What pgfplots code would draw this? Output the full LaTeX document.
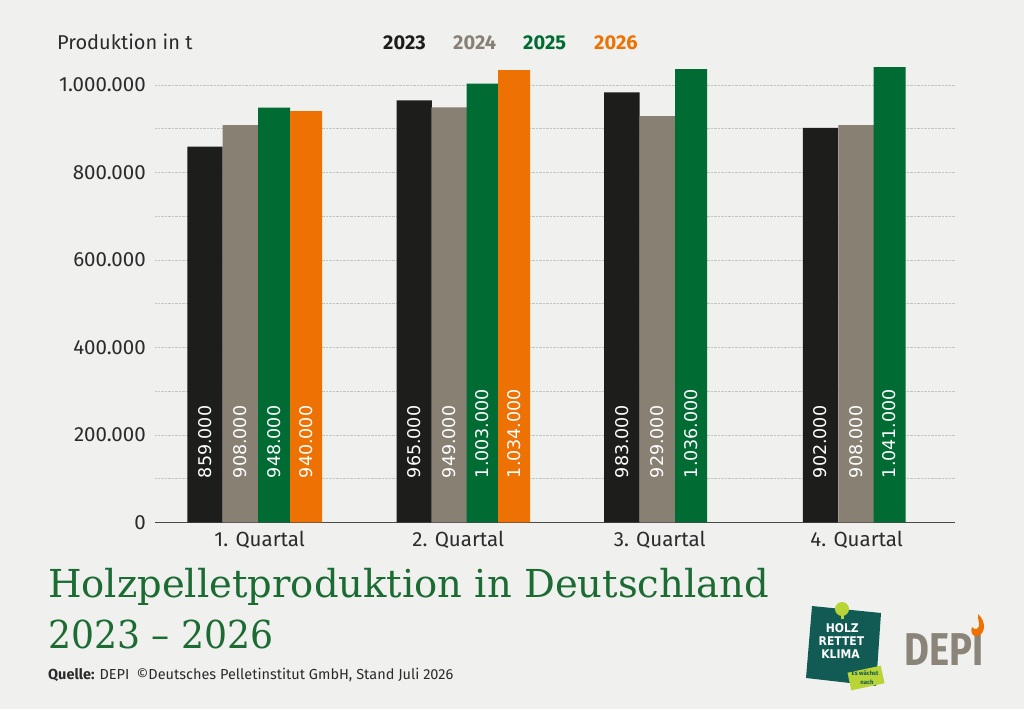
\documentclass[border=0pt]{standalone}
\usepackage{fontspec}
\setmainfont{Fira Sans}
\newfontfamily\slab{DejaVu Serif}
\newfontfamily\dejavu{DejaVu Sans}
\usepackage{pgfplots}
\pgfplotsset{compat=1.18}
\usepackage{pgfplotstable}

\definecolor{bg}{HTML}{F0F1EE}
\definecolor{c23}{HTML}{1D1D1B}
\definecolor{c24}{HTML}{878073}
\definecolor{c25}{HTML}{006B33}
\definecolor{c26}{HTML}{EE7203}
\definecolor{ttl}{HTML}{1B6B33}
\definecolor{txt}{HTML}{2B2B2B}
\definecolor{gridc}{HTML}{C4C5C1}
\definecolor{axisc}{HTML}{4A4A48}
\definecolor{tealc}{HTML}{125A54}
\definecolor{limec}{HTML}{B9D437}
\definecolor{depigray}{HTML}{8A8479}

% x = horizontal position of the bar centre, y = production in t
\pgfplotstableread{
x y
205.0 859000
414.2 965000
621.8 983000
820.5 902000
}\tA
\pgfplotstableread{
x y
240.5 908000
449.2 949000
657.3 929000
856.2 908000
}\tB
\pgfplotstableread{
x y
274.2 948000
482.5 1003000
691.0 1036000
889.5 1041000
}\tC
\pgfplotstableread{
x y
306.0 940000
514.2 1034000
}\tD

\pgfplotsset{
  lbl/.style={draw=none, mark=none,
    point meta=explicit,
    nodes near coords={\pgfmathprintnumber[fixed,precision=0,1000 sep={.},assume math mode=true]{\pgfplotspointmeta}},
    every node near coord/.append style={rotate=90, anchor=west, inner sep=0pt,
      font=\dejavu\fontsize{17.5}{20}\selectfont, text=white}},
}

\begin{document}
\begin{tikzpicture}[x=1pt,y=1pt]
\fill[bg] (0,0) rectangle (1024,709);
\begin{axis}[
  at={(155pt,186.5pt)}, anchor=south west,
  scale only axis, width=800pt, height=481.25pt,
  xmin=155, xmax=955, ymin=0, ymax=1100000,
  scaled y ticks=false, scaled x ticks=false,
  axis x line*=bottom, axis y line*=left,
  x axis line style={-, draw=axisc, line width=1.4pt},
  y axis line style={draw=none},
  major tick length=0pt,
  ytick={0,100000,200000,300000,400000,500000,600000,700000,800000,900000,1000000},
  yticklabels={0,,200.000,,400.000,,600.000,,800.000,,1.000.000},
  ymajorgrids, grid style={densely dotted, draw=gridc, line width=0.8pt},
  xtick={259.7,458.3,659.7,856.7},
  xticklabels={1. Quartal,2. Quartal,3. Quartal,4. Quartal},
  tick label style={font=\fontsize{20.5}{24}\selectfont, text=txt},
  yticklabel style={inner sep=0pt, anchor=east, xshift=-9pt},
  xticklabel style={inner sep=0pt, anchor=north, yshift=-8pt},
  clip=false,
]
\addplot[ybar, bar width=35.4, bar shift=0pt, fill=c23, draw=none] table[x=x,y=y]{\tA};
\addplot[ybar, bar width=35.6, bar shift=0pt, fill=c24, draw=none] table[x=x,y=y]{\tB};
\addplot[ybar, bar width=32.0, bar shift=0pt, fill=c25, draw=none] table[x=x,y=y]{\tC};
\addplot[ybar, bar width=32.0, bar shift=0pt, fill=c26, draw=none] table[x=x,y=y]{\tD};
\addplot[lbl] table[x=x, y expr=101000, meta=y]{\tA};
\addplot[lbl] table[x=x, y expr=101000, meta=y]{\tB};
\addplot[lbl] table[x=x, y expr=101000, meta=y]{\tC};
\addplot[lbl] table[x=x, y expr=101000, meta=y]{\tD};
\end{axis}

% header
\node[anchor=base west, inner sep=0pt, text=txt, font=\fontsize{20}{24}\selectfont] at (57,659) {Produktion in t};
\node[anchor=base west, inner sep=0pt, text=c23, font=\bfseries\fontsize{20}{24}\selectfont] at (383,659) {2023};
\node[anchor=base west, inner sep=0pt, text=c24, font=\bfseries\fontsize{20}{24}\selectfont] at (453,659) {2024};
\node[anchor=base west, inner sep=0pt, text=c25, font=\bfseries\fontsize{20}{24}\selectfont] at (523,659) {2025};
\node[anchor=base west, inner sep=0pt, text=c26, font=\bfseries\fontsize{20}{24}\selectfont] at (594,659) {2026};

% title
\node[anchor=base west, inner sep=0pt, text=ttl, font=\slab\fontsize{38.5}{44}\selectfont] at (48,111) {Holzpelletproduktion in Deutschland};
\node[anchor=base west, inner sep=0pt, text=ttl, font=\slab\fontsize{38.5}{44}\selectfont, xscale=0.94] at (48,61) {2023 – 2026};
\node[anchor=base west, inner sep=0pt, text=txt, font=\fontsize{14.5}{17}\selectfont] at (48,30) {\textbf{Quelle:} DEPI\enspace©Deutsches Pelletinstitut GmbH, Stand Juli 2026};

% logo Holz rettet Klima
\fill[tealc] (812,103) -- (881,96) -- (876,23) -- (806,31) -- cycle;
\fill[limec] (842,100) circle (7);
\fill[limec] (840.5,90) rectangle (843.5,96);
\begin{scope}[rotate around={-4:(841,62)}]
\node[text=white, font=\dejavu\bfseries\fontsize{12}{13}\selectfont, inner sep=0pt, xscale=0.9] at (841,81) {HOLZ};
\node[text=white, font=\dejavu\bfseries\fontsize{12}{13}\selectfont, inner sep=0pt, xscale=0.9] at (841,68) {RETTET};
\node[text=white, font=\dejavu\bfseries\fontsize{12}{13}\selectfont, inner sep=0pt, xscale=0.9] at (841,55) {KLIMA};
\end{scope}
\begin{scope}[rotate around={12:(866,31)}]
\fill[limec] (849,22) rectangle (883,40);
\node[text=tealc, inner sep=0pt, font=\bfseries\fontsize{6}{6}\selectfont] at (866,35.5) {Es wächst};
\node[text=tealc, inner sep=0pt, font=\bfseries\fontsize{6}{6}\selectfont] at (866,26.5) {nach};
\end{scope}

% logo DEPI
\node[anchor=base west, inner sep=0pt, text=depigray, font=\bfseries\fontsize{46}{50}\selectfont, xscale=0.83] at (904,44) {DEPI};
\fill[c26] (978,95) .. controls (986,88) and (986,76) .. (978,73) .. controls (972,71) and (970,78) .. (972,82) .. controls (975,78) and (980,80) .. (979,86) .. controls (978,90) and (978,92) .. (978,95) -- cycle;
\end{tikzpicture}
\end{document}
